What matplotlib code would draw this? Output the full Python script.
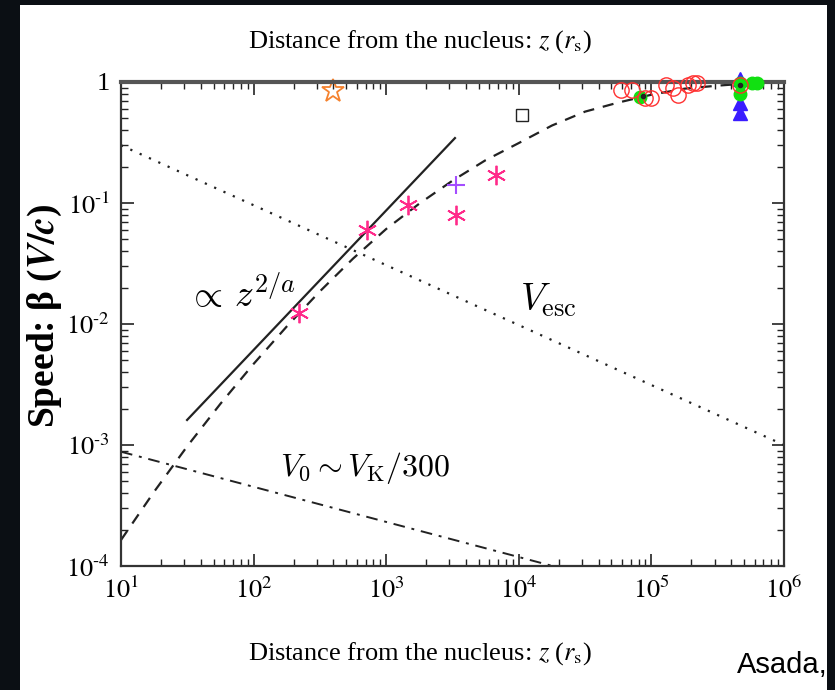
import matplotlib
matplotlib.use("Agg")
import matplotlib.pyplot as plt
from matplotlib.patches import Rectangle
from matplotlib.ticker import FixedLocator, LogLocator, NullFormatter

plt.rcParams['font.family'] = ['Liberation Serif', 'DejaVu Serif']
plt.rcParams['mathtext.fontset'] = 'stix'

# ---- data ----
# V_esc (dotted)
vesc_z = [10, 1e6]
vesc_b = [0.30, 1.0e-3]
# V0 ~ VK/300 (dash-dot)
v0_z = [10, 1.8e4]
v0_b = [8.8e-4, 1.0e-4]
# power law z^{2/a} (solid)
pl_z = [31.5, 3300]
pl_b = [1.61e-3, 0.344]
# model curve (dashed)
model_z = [10, 17.8, 31.6, 56.2, 100, 178, 316, 562, 1000, 1778, 3162, 5623, 1e4,
           1.78e4, 3.16e4, 5.62e4, 1e5, 1.78e5, 3.16e5, 5.62e5, 1e6]
model_b = [1.64e-4, 4.12e-4, 9.77e-4, 2.19e-3, 4.68e-3, 9.55e-3, 0.0186, 0.0347, 0.061,
           0.0989, 0.153, 0.226, 0.313, 0.437, 0.569, 0.676, 0.785, 0.881, 0.933, 0.977, 1.0]

# observations
star_z, star_b = [400], [0.85]
ast_z = [220, 716, 1460, 3360, 6730]
ast_b = [0.0123, 0.060, 0.096, 0.080, 0.170]
plus_z, plus_b = [3360], [0.141]
sq_z, sq_b = [1.06e4], [0.53]
circ_z = [5.9e4, 7.1e4, 9.0e4, 1.0e5, 1.29e5, 1.46e5, 1.6e5, 1.89e5, 2.07e5, 2.2e5, 4.66e5]
circ_b = [0.86, 0.86, 0.74, 0.74, 0.94, 0.89, 0.78, 0.94, 0.98, 0.98, 0.94]
grn_z = [8.2e4, 4.66e5, 4.66e5, 5.7e5, 6.3e5]
grn_b = [0.75, 0.98, 0.80, 0.98, 0.98]
tri_z = [4.66e5, 4.66e5, 4.66e5]
tri_b = [1.05, 0.67, 0.55]
dot_z = [8.6e4, 4.66e5]
dot_b = [0.76, 0.94]

xticks = [1e1, 1e2, 1e3, 1e4, 1e5, 1e6]
xticklabels = [r'$10^{1}$', r'$10^{2}$', r'$10^{3}$', r'$10^{4}$', r'$10^{5}$', r'$10^{6}$']
yticks = [1e-4, 1e-3, 1e-2, 1e-1, 1]
yticklabels = [r'$10^{\text{-}4}$', r'$10^{\text{-}3}$', r'$10^{\text{-}2}$', r'$10^{\text{-}1}$', '1']

W, H = 835, 690
fig = plt.figure(figsize=(W / 100, H / 100), dpi=100)
fig.patch.set_facecolor('#0b0f14')
fig.patches.append(Rectangle((20 / W, 0), 807 / W, 685 / H, transform=fig.transFigure,
                             facecolor='white', edgecolor='none', zorder=-10))

ax = fig.add_axes([121 / W, 1 - 566 / H, 663 / W, 484 / H])
ax.set_xscale('log')
ax.set_yscale('log')
ax.set_xlim(10, 1e6)
ax.set_ylim(1e-4, 1)

ax.plot(vesc_z, vesc_b, color='#222222', lw=1.6, linestyle=(0, (1, 3.6)))
ax.plot(v0_z, v0_b, color='#222222', lw=1.4, linestyle=(0, (6, 3.5, 1.5, 3.5)))
ax.plot(pl_z, pl_b, color='#222222', lw=1.6)
ax.plot(model_z, model_b, color='#222222', lw=1.6, linestyle=(0, (5, 4)))

ax.plot(star_z, star_b, linestyle='none', marker='*', markersize=17, markerfacecolor='none',
        markeredgecolor='#f5822e', markeredgewidth=1.3, clip_on=False)
ax.plot(ast_z, ast_b, linestyle='none', marker=(6, 2, 0), markersize=14,
        color='#ff2a8a', markeredgewidth=1.3)
ax.plot(plus_z, plus_b, linestyle='none', marker='+', markersize=13,
        color='#a44dff', markeredgewidth=1.5)
ax.plot(sq_z, sq_b, linestyle='none', marker='s', markersize=9, markerfacecolor='none',
        markeredgecolor='#222222', markeredgewidth=1.0)
ax.plot(grn_z, grn_b, linestyle='none', marker='o', markersize=9, color='#11e011',
        clip_on=False, zorder=4)
ax.plot(tri_z, tri_b, linestyle='none', marker='^', markersize=10, color='#3a1cff',
        clip_on=False, zorder=3)
ax.plot(circ_z, circ_b, linestyle='none', marker='o', markersize=11, markerfacecolor='none',
        markeredgecolor='#ff3030', markeredgewidth=1.0, clip_on=False, zorder=5)
ax.plot(dot_z, dot_b, linestyle='none', marker='o', markersize=3, color='#222222',
        clip_on=False, zorder=6)

# annotations
ax.text(31.5, 0.0174, r'$\propto\, z^{2/a}$', fontsize=27, math_fontfamily='cm',
        ha='left', va='center')
ax.text(1.02e4, 0.0158, r'$V_{\rm esc}$', fontsize=27, math_fontfamily='cm',
        ha='left', va='center')
ax.text(158, 6.45e-4, r'$V_0 \sim V_{\rm K}/300$', fontsize=23, math_fontfamily='cm',
        ha='left', va='center')

# ticks
ax.xaxis.set_major_locator(FixedLocator(xticks))
ax.set_xticklabels(xticklabels, fontsize=19)
ax.yaxis.set_major_locator(FixedLocator(yticks))
ax.set_yticklabels(yticklabels, fontsize=19)
ax.xaxis.set_minor_locator(LogLocator(base=10, subs=range(2, 10), numticks=20))
ax.yaxis.set_minor_locator(LogLocator(base=10, subs=range(2, 10), numticks=20))
ax.xaxis.set_minor_formatter(NullFormatter())
ax.yaxis.set_minor_formatter(NullFormatter())
ax.tick_params(which='both', direction='in', top=True, right=True, color='#222222')
ax.tick_params(which='major', length=9, width=1.2, pad=8)
ax.tick_params(which='minor', length=5, width=1.0)
for s in ax.spines.values():
    s.set_linewidth(1.6)
    s.set_color('#333333')
ax.spines['top'].set_linewidth(3)
ax.spines['top'].set_color('#555555')

# labels
fig.text(420 / W, 1 - 42 / H, r'Distance from the nucleus: $z$ ($r_{\rm s}$)', fontsize=19,
         ha='center', va='center')
fig.text(420 / W, 1 - 654 / H, r'Distance from the nucleus: $z$ ($r_{\rm s}$)', fontsize=19,
         ha='center', va='center')
fig.text(45 / W, 1 - 316 / H, r'Speed: β ($\boldsymbol{V/c}$)', fontsize=27, fontweight='bold',
         rotation=90, ha='center', va='center')
fig.text(737 / W, 1 - 665 / H, 'Asada,', fontsize=21, family='Liberation Sans',
         ha='left', va='center', color='black')

fig.savefig('out.png', dpi=100, facecolor=fig.get_facecolor())
